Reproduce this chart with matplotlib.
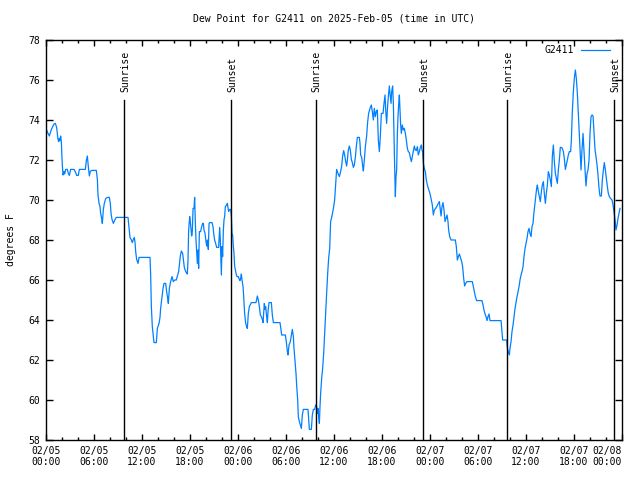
import matplotlib
matplotlib.use("Agg")
import matplotlib.pyplot as plt
import numpy as np

# hours since 2025-02-05 00:00 UTC
hours = [
    0.0, 0.08, 0.25, 0.42, 0.67, 1.0, 1.17, 1.33, 1.42, 1.5, 1.58, 1.67, 1.75, 1.83, 1.92, 1.96,
    2.04, 2.13, 2.25, 2.33, 2.46, 2.67, 2.79, 2.92, 3.08, 3.5, 3.71, 3.83, 4.04, 4.17, 4.92, 5.04,
    5.17, 5.29, 5.42, 5.54, 5.71, 6.29, 6.42, 6.5, 6.63, 6.75, 6.83, 6.96, 7.04, 7.17, 7.29, 7.46,
    7.67, 7.92, 8.04, 8.13, 8.25, 8.42, 8.63, 8.79, 10.25, 10.38, 10.5, 10.67, 10.79, 10.92, 11.04,
    11.13, 11.21, 11.33, 11.5, 11.63, 12.75,
    13.0, 13.08, 13.17, 13.29, 13.5, 13.79, 13.92, 14.13, 14.25, 14.33, 14.5, 14.63, 14.75, 14.96,
    15.08, 15.21, 15.29, 15.42, 15.58, 15.75, 15.92, 16.08, 16.29, 16.42, 16.58, 16.67, 16.79, 16.92,
    17.08, 17.17, 17.29, 17.42, 17.54, 17.67, 17.75, 17.83, 17.96, 18.04, 18.13, 18.21, 18.29, 18.38,
    18.5, 18.58, 18.67, 18.75, 18.83, 18.92, 19.0, 19.08, 19.17, 19.33, 19.46, 19.58, 19.67, 19.75,
    19.88, 20.0, 20.08, 20.17, 20.29, 20.38, 20.46, 20.75, 20.88, 20.96, 21.08, 21.21, 21.33, 21.58,
    21.71, 21.79, 21.92, 22.0, 22.08, 22.17, 22.25, 22.33, 22.42, 22.58, 22.67, 22.75, 22.83, 22.96,
    23.08, 23.17, 23.25, 23.33, 23.42, 23.5, 23.58, 23.75, 23.88, 24.04, 24.17, 24.25, 24.33, 24.42,
    24.5, 24.63, 24.71, 24.83, 24.96,
    25.08, 25.17, 25.29, 25.42, 25.67, 26.25, 26.42, 26.54, 26.67, 26.79, 26.92, 27.04, 27.13, 27.21,
    27.29, 27.38, 27.46, 27.58, 27.67, 27.75, 27.88, 28.17, 28.29, 28.42, 29.25, 29.38, 29.46, 29.92,
    30.04, 30.17, 30.25, 30.38, 30.54, 30.71, 30.79, 30.92, 31.0, 31.13, 31.25, 31.33, 31.46, 31.54,
    31.67, 31.79, 31.92, 32.04, 32.17, 32.75, 32.83, 32.92, 33.17, 33.29, 33.42, 33.58, 33.71, 33.83,
    33.92, 34.0, 34.08, 34.17, 34.25, 34.33, 34.46, 34.58, 34.71, 34.83, 34.96, 35.08, 35.21, 35.33,
    35.46, 35.58, 35.71, 35.83, 35.96, 36.08,
    36.21, 36.33, 36.5, 36.67, 36.83, 36.96, 37.08, 37.21, 37.33, 37.46, 37.58, 37.67, 37.79, 37.92,
    38.04, 38.17, 38.29, 38.42, 38.54, 38.67, 38.79, 38.92, 39.17, 39.25, 39.33, 39.46, 39.58, 39.67,
    39.79, 39.92, 40.08, 40.21, 40.33, 40.5, 40.67, 40.79, 40.92, 41.04, 41.17, 41.29, 41.42, 41.54,
    41.67, 41.79, 41.92, 42.13, 42.25, 42.38, 42.46, 42.58, 42.71, 42.79, 42.92, 43.0, 43.13, 43.21,
    43.33, 43.42, 43.5, 43.58, 43.67, 43.75, 43.83, 43.92, 44.0, 44.08, 44.17, 44.25, 44.33, 44.42,
    44.54, 44.67, 44.79, 44.92, 45.04, 45.17, 45.29, 45.42, 45.54, 45.67, 45.79, 45.92, 46.04, 46.17,
    46.29, 46.42, 46.54, 46.67, 46.79, 46.92, 47.0,
    47.08, 47.17, 47.29, 47.42, 47.54, 47.67, 47.79, 47.92, 48.04, 48.17, 48.29, 48.42, 48.54, 48.71,
    48.88, 49.04, 49.17, 49.29, 49.38, 49.5, 49.63, 49.75, 49.88, 50.0, 50.13, 50.25, 50.33, 50.46,
    50.63, 51.17, 51.29, 51.42, 51.54, 51.67, 51.83, 51.96, 52.08, 52.21, 52.33, 52.46, 52.63, 53.29,
    53.42, 53.54, 53.67, 53.83, 54.5, 54.63, 54.75, 54.88, 55.0, 55.13, 55.25, 55.38, 55.5, 56.88,
    57.0, 57.08, 57.58, 57.67, 57.79, 57.92,
    58.0, 58.13, 58.25, 58.38, 58.5, 58.63, 58.75, 58.88, 59.0, 59.13, 59.25, 59.38, 59.5, 59.63,
    59.75, 59.88, 60.0, 60.13, 60.25, 60.38, 60.5, 60.63, 60.75, 60.88, 60.96, 61.08, 61.21, 61.33,
    61.42, 61.54, 61.67, 61.79, 61.92, 62.04, 62.17, 62.29, 62.42, 62.54, 62.67, 62.79, 62.92, 63.04,
    63.17, 63.29, 63.42, 63.54, 63.67, 63.79, 63.92, 64.04, 64.17, 64.29, 64.42, 64.54, 64.67, 64.79,
    64.92, 65.04, 65.17, 65.29, 65.42, 65.58, 65.67, 65.79, 65.92, 66.04, 66.17, 66.29, 66.42, 66.54,
    66.67, 66.79, 66.88, 67.0, 67.13, 67.25, 67.38, 67.5, 67.63, 67.75, 67.88, 68.0, 68.13, 68.25,
    68.38, 68.5, 68.63, 68.75, 68.88, 69.0, 69.13, 69.25, 69.42, 69.54, 69.67, 69.79, 69.92, 70.04,
    70.17, 70.29, 70.42, 70.58, 70.75, 70.88, 71.0, 71.13, 71.25, 71.38, 71.5, 71.63, 71.75,
]

dew_point = [
    73.5, 73.5, 73.33, 73.2, 73.53, 73.8, 73.83, 73.63, 73.33, 73.03, 72.92, 73.08, 72.97, 73.2, 72.92, 72.47,
    71.75, 71.25, 71.42, 71.3, 71.53, 71.53, 71.33, 71.23, 71.53, 71.53, 71.37, 71.23, 71.23, 71.53, 71.53, 71.97,
    72.2, 71.67, 71.2, 71.43, 71.48, 71.48, 71.03, 70.25, 69.83, 69.67, 69.33, 69.08, 68.83, 69.53, 69.83, 70.07,
    70.13, 70.13, 69.83, 69.33, 69.03, 68.83, 69.03, 69.13, 69.13, 68.63, 68.13, 68.0, 67.87, 68.03, 68.13,
    67.87, 67.42, 67.03, 66.83, 67.13, 67.13,
    67.13, 66.3, 64.67, 63.67, 62.87, 62.87, 63.58, 63.83, 64.13, 64.58, 65.13, 65.58, 65.83, 65.83,
    65.42, 65.08, 64.83, 65.58, 65.92, 66.17, 65.92, 66.0, 66.0, 66.2, 66.42, 66.75, 67.2, 67.45,
    67.33, 67.03, 66.63, 66.47, 66.37, 66.3, 67.0, 68.47, 69.17, 68.92, 68.53, 68.2, 68.42, 69.58,
    69.58, 70.13, 68.83, 68.0, 67.42, 66.83, 67.5, 66.58, 68.42, 68.42, 68.67, 68.83, 68.83, 68.5,
    68.33, 67.92, 67.7, 68.0, 67.53, 68.83, 68.87, 68.87, 68.67, 68.33, 68.0, 67.83, 67.63, 67.63,
    68.63, 68.0, 66.25, 67.67, 67.17, 68.5, 69.0, 69.17, 69.67, 69.75, 69.83, 69.63, 69.42, 69.53,
    69.53, 69.17, 68.33, 68.25, 67.67, 67.33, 66.7, 66.33, 66.17, 66.17, 66.03, 65.97, 66.08, 66.3,
    66.0, 65.67, 65.17, 64.33, 63.83,
    63.67, 63.58, 64.33, 64.67, 64.87, 64.87, 65.2, 65.0, 64.67, 64.25, 64.17, 64.03, 63.87, 64.33,
    64.83, 64.53, 64.67, 64.17, 63.87, 64.42, 64.87, 64.87, 64.25, 63.87, 63.87, 63.5, 63.25, 63.25,
    62.92, 62.42, 62.25, 62.75, 62.92, 63.33, 63.53, 63.17, 62.58, 61.92, 61.33, 60.75, 60.0, 59.17,
    58.92, 58.75, 58.58, 59.25, 59.53, 59.53, 59.08, 58.53, 58.53, 59.25, 59.53, 59.53, 59.75, 59.67,
    59.33, 59.58, 59.17, 58.83, 59.67, 60.33, 61.08, 61.58, 62.33, 63.33, 64.33, 65.33, 66.33, 67.08,
    67.58, 68.92, 69.13, 69.37, 69.67, 70.0,
    70.83, 71.53, 71.33, 71.17, 71.42, 71.7, 72.2, 72.47, 72.25, 71.92, 71.7, 72.0, 72.5, 72.7,
    72.5, 72.03, 71.87, 71.63, 71.75, 72.13, 72.67, 73.13, 73.13, 72.83, 72.25, 72.13, 71.7, 71.45,
    72.0, 72.67, 73.2, 73.92, 74.33, 74.58, 74.75, 74.42, 74.0, 74.58, 74.17, 74.42, 74.5, 73.0,
    72.42, 73.17, 74.33, 74.33, 74.83, 75.25, 74.5, 73.83, 74.75, 75.17, 75.7, 75.33, 74.83, 75.42,
    75.7, 74.83, 73.17, 71.67, 70.17, 71.17, 71.5, 73.33, 74.17, 74.75, 75.25, 74.5, 73.75, 73.33,
    73.75, 73.5, 73.58, 73.33, 73.0, 72.58, 72.42, 72.37, 72.13, 71.92, 72.17, 72.42, 72.7, 72.5,
    72.47, 72.67, 72.25, 72.42, 72.63, 72.75, 72.5,
    72.4, 71.83, 71.58, 71.42, 71.0, 70.75, 70.58, 70.42, 70.25, 70.0, 69.75, 69.25, 69.5, 69.58,
    69.7, 69.83, 69.92, 69.5, 69.2, 69.67, 69.87, 69.5, 68.92, 69.08, 69.25, 68.92, 68.5, 68.17,
    68.0, 68.0, 67.67, 67.0, 67.17, 67.3, 67.08, 66.92, 66.67, 66.08, 65.7, 65.83, 65.92, 65.92,
    65.67, 65.42, 65.17, 64.97, 64.97, 64.75, 64.5, 64.3, 64.17, 63.97, 64.17, 64.3, 63.97, 63.97,
    63.42, 63.0, 63.0, 62.6, 62.4, 62.25,
    62.58, 62.92, 63.42, 63.75, 64.17, 64.58, 64.87, 65.17, 65.42, 65.67, 66.0, 66.25, 66.42, 66.67,
    67.17, 67.58, 67.83, 68.08, 68.42, 68.58, 68.33, 68.17, 68.67, 68.83, 69.25, 69.67, 70.17, 70.58,
    70.75, 70.42, 70.17, 69.92, 70.42, 70.75, 70.92, 70.33, 69.83, 70.33, 70.75, 71.42, 71.25, 71.0,
    70.67, 72.17, 72.75, 71.92, 71.33, 71.08, 70.83, 71.5, 72.0, 72.63, 72.63, 72.58, 72.42, 72.08,
    71.53, 71.75, 72.0, 72.25, 72.42, 72.42, 73.0, 74.42, 75.42, 76.08, 76.5, 76.08, 75.33, 74.33,
    73.25, 72.17, 71.5, 72.5, 73.33, 72.42, 71.5, 70.7, 71.33, 71.5, 72.0, 73.33, 74.17, 74.25,
    74.2, 73.42, 72.5, 72.17, 71.75, 71.25, 70.58, 70.2, 70.2, 71.0, 71.5, 71.87, 71.5, 71.08,
    70.67, 70.33, 70.17, 70.08, 70.0, 69.75, 69.42, 69.0, 68.5, 68.75, 69.08, 69.33, 69.58,
]

sun_hours = [9.79, 23.17, 33.71, 47.17, 57.66, 71.05]
sun_labels = ["Sunrise", "Sunset", "Sunrise", "Sunset", "Sunrise", "Sunset"]

xtick_hours = [0, 6, 12, 18, 24, 30, 36, 42, 48, 54, 60, 66, 72]
xtick_labels = ["02/05\n00:00", "02/05\n06:00", "02/05\n12:00", "02/05\n18:00",
                "02/06\n00:00", "02/06\n06:00", "02/06\n12:00", "02/06\n18:00",
                "02/07\n00:00", "02/07\n06:00", "02/07\n12:00", "02/07\n18:00",
                "02/08\n00:00"]
ytick_values = [58, 60, 62, 64, 66, 68, 70, 72, 74, 76, 78]

FONT = "DejaVu Sans Mono"
FS = 7

fig = plt.figure(figsize=(6.4, 4.8), dpi=100)
ax = fig.add_axes([46/640, 40/480, 576/640, 400/480])

ax.plot(hours, dew_point, color="#0080ff", lw=0.9, label="G2411")

for h, lab in zip(sun_hours, sun_labels):
    ax.plot([h, h], [58, 75], color="black", lw=1.0)
    ax.text(h + 0.12, 75.4, lab, rotation=90, ha="center", va="bottom",
            family=FONT, fontsize=FS)

ax.set_xlim(0, 72)
ax.set_ylim(58, 78)
ax.set_xticks(xtick_hours)
ax.set_xticklabels(xtick_labels, family=FONT, fontsize=FS)
lbls = ax.get_xticklabels()
lbls[-1].set_horizontalalignment("right")
ax.set_xticks(np.arange(0, 73, 2), minor=True)
ax.set_yticks(ytick_values)
ax.set_yticklabels([str(v) for v in ytick_values], family=FONT, fontsize=FS)

ax.tick_params(axis="both", which="both", direction="in", top=True, right=True, width=1.0)
ax.tick_params(axis="x", which="major", length=4.5, pad=4)
ax.tick_params(axis="x", which="minor", length=2.2)
ax.tick_params(axis="y", which="major", length=5, pad=4)
for s in ax.spines.values():
    s.set_linewidth(1.0)

ax.set_ylabel("degrees F", family=FONT, fontsize=FS, labelpad=9)
ax.set_title("Dew Point for G2411 on 2025-Feb-05 (time in UTC)", family=FONT,
             fontsize=FS, pad=13)

leg = ax.legend(loc="upper right", frameon=False, markerfirst=False,
                prop={"family": FONT, "size": FS}, handlelength=3.0,
                handletextpad=0.7, borderaxespad=0.0,
                bbox_to_anchor=(0.986, 0.997))

fig.savefig("out.png", dpi=100)
